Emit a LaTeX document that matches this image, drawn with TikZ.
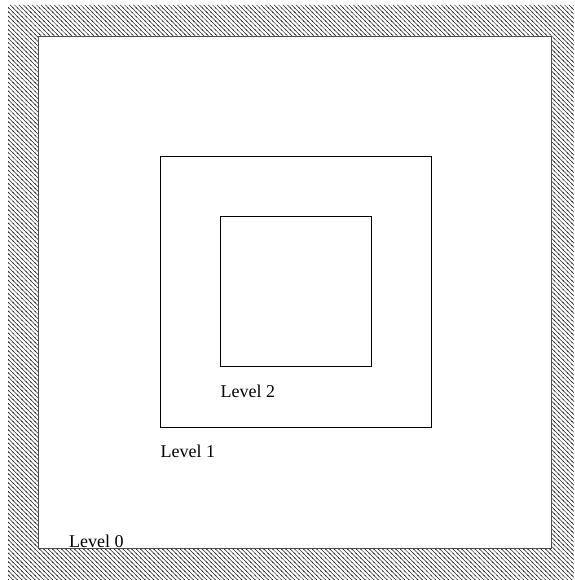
\documentclass[tikz,border=0pt]{standalone}
\usepackage{fontspec}
\setmainfont{Liberation Serif}
\usetikzlibrary{patterns}
\pgfdeclarepatternformonly{hatchnw}{\pgfqpoint{-1pt}{-1pt}}{\pgfqpoint{5.5pt}{5.5pt}}{\pgfqpoint{4.4pt}{4.4pt}}{%
  \pgfsetlinewidth{0.5pt}
  \pgfpathmoveto{\pgfqpoint{0pt}{4.4pt}}
  \pgfpathlineto{\pgfqpoint{4.4pt}{0pt}}
  \pgfpathmoveto{\pgfqpoint{-0.5pt}{0.5pt}}
  \pgfpathlineto{\pgfqpoint{0.5pt}{-0.5pt}}
  \pgfpathmoveto{\pgfqpoint{3.9pt}{4.9pt}}
  \pgfpathlineto{\pgfqpoint{4.9pt}{3.9pt}}
  \pgfusepath{stroke}}
\begin{document}
\begin{tikzpicture}[x=1pt,y=-1pt,
  box/.style={draw=black,line width=0.9pt},
  lbl/.style={anchor=base west,inner sep=0pt,font=\fontsize{18}{20}\selectfont}]
\useasboundingbox (0,0) rectangle (574,580);
\fill[pattern=hatchnw,pattern color=black!85,even odd rule] (8,5) rectangle (574,580) (38,36) rectangle (551,548);
\draw[line width=0.6pt,black!70] (38,36) rectangle (551,548);
\node[box,minimum width=271pt,minimum height=271pt,inner sep=0pt] (l1) at (295.5,291.5) {};
\node[box,minimum width=151pt,minimum height=150pt,inner sep=0pt] (l2) at (295.5,291) {};
\node[lbl] (t0) at (69,547.3) {Level 0};
\node[lbl] (t1) at (160.5,457) {Level 1};
\node[lbl] (t2) at (220.5,397.5) {Level 2};
\end{tikzpicture}
\end{document}
